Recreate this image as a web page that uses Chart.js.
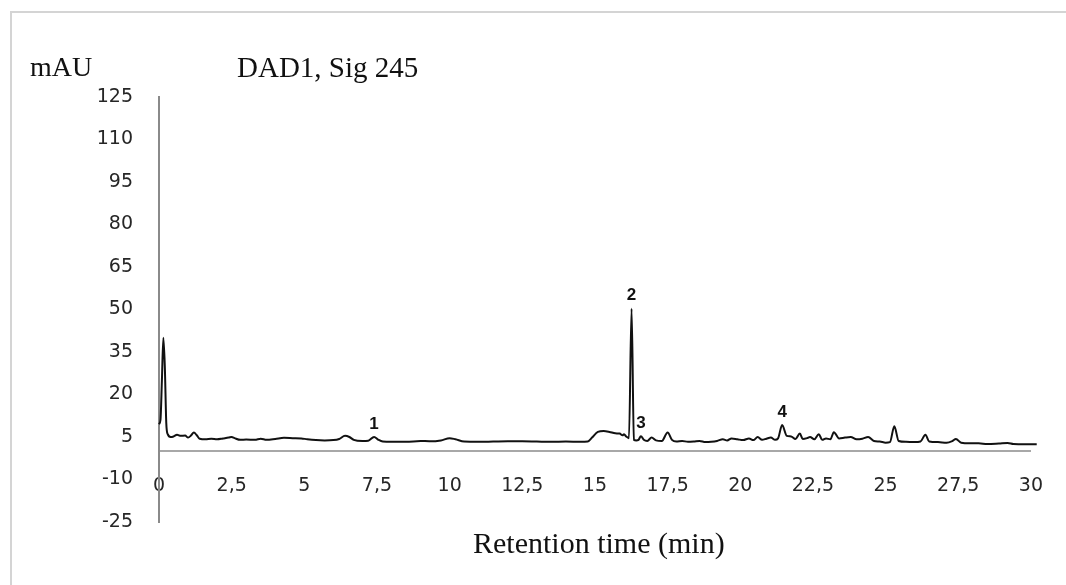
<!DOCTYPE html>
<html>
<head>
<meta charset="utf-8">
<script src="https://cdn.jsdelivr.net/npm/chart.js@4.4.1/dist/chart.umd.min.js"></script>
<style>
    body { margin: 0; background: #fff; }
    .wrap { position: relative; width: 1066px; height: 585px; overflow: hidden; }
    .frame { position: absolute; left: 10px; top: 11px; width: 1100px; height: 620px; border-top: 2px solid #d4d4d4; border-left: 2px solid #d4d4d4; }
    .txt { position: absolute; font-family: "Liberation Serif", "Times New Roman", serif; font-size: 28px; line-height: 32px; color: #111; white-space: nowrap; }
    canvas { position: absolute; left: 0; top: 0; }
</style>
</head>
<body>
<div class="wrap">
    <div class="frame"></div>
    <canvas id="chromatogram" width="1066" height="585"></canvas>
    <div class="txt" style="left:30px; top:51px;">mAU</div>
    <div class="txt" style="left:237px; top:51px; font-size:29px;">DAD1, Sig 245</div>
    <div class="txt" style="left:473px; top:527px; font-size:30px;">Retention time (min)</div>
</div>
<script>
// retention time (min) and detector signal (mAU)
const time = [
    0, 0.05, 0.1, 0.15, 0.2, 0.25, 0.3, 0.4, 0.5, 0.62, 0.75, 0.9, 1.0, 1.1, 1.2, 1.3, 1.4, 1.6, 1.8, 2.0,
    2.2, 2.4, 2.5, 2.6, 2.8, 3.0, 3.3, 3.5, 3.7, 4.0, 4.3, 4.6, 4.9, 5.1, 5.4, 5.7, 6.0, 6.2, 6.4, 6.55,
    6.7, 7.0, 7.2, 7.4, 7.55, 7.7, 8.0, 8.5, 9.0, 9.3, 9.7, 10.0, 10.2, 10.5, 11, 11.5, 12, 12.5, 13, 13.5,
    14, 14.5, 14.75, 14.9, 15.1, 15.3, 15.5, 15.7, 15.85, 15.95, 16.0, 16.07, 16.17, 16.26, 16.34, 16.42, 16.5, 16.58, 16.68, 16.8,
    16.95, 17.1, 17.3, 17.5, 17.65, 17.8, 18.0, 18.2, 18.4, 18.6, 18.8, 19.0, 19.2, 19.4, 19.55, 19.7, 19.9, 20.1, 20.3, 20.45,
    20.6, 20.75, 20.9, 21.05, 21.2, 21.3, 21.44, 21.6, 21.75, 21.9, 22.05, 22.15, 22.3, 22.4, 22.55, 22.7, 22.82, 22.95, 23.1, 23.22,
    23.4, 23.6, 23.8, 24.0, 24.2, 24.4, 24.6, 24.8, 25.0, 25.15, 25.3, 25.45, 25.7, 26.0, 26.2, 26.37, 26.5, 26.8, 27.1, 27.3,
    27.42, 27.6, 27.9, 28.2, 28.5, 28.9, 29.2, 29.4, 29.8, 30.2, 30.6
];
const signal = [
    9.5, 11, 25, 40, 30, 10, 6, 5.0, 5.2, 5.8, 5.4, 5.5, 4.8, 5.5, 6.6, 5.6, 4.4, 4.2, 4.4, 4.2,
    4.5, 4.8, 5.0, 4.6, 4.0, 4.1, 4.0, 4.4, 4.0, 4.3, 4.7, 4.6, 4.5, 4.2, 3.9, 3.8, 3.9, 4.3, 5.4, 5.0,
    4.0, 3.6, 3.7, 5.0, 4.0, 3.4, 3.3, 3.3, 3.6, 3.5, 3.8, 4.6, 4.2, 3.4, 3.3, 3.4, 3.5, 3.5, 3.4, 3.3,
    3.4, 3.3, 3.4, 4.8, 6.8, 7.1, 6.8, 6.3, 6.2, 5.6, 6.0, 5.2, 4.6, 50.3, 4.0, 3.8, 4.0, 5.3, 4.0, 3.6,
    4.8, 3.8, 3.6, 6.6, 4.0, 3.4, 3.6, 3.3, 3.4, 3.6, 3.2, 3.3, 3.6, 4.2, 3.8, 4.5, 4.2, 3.9, 4.5, 3.9,
    5.0, 4.0, 4.4, 4.8, 4.0, 4.5, 9.2, 5.4, 5.2, 4.3, 6.2, 4.3, 4.6, 5.0, 4.2, 6.0, 4.0, 4.5, 4.2, 6.7,
    4.5, 4.8, 5.0, 4.2, 4.4, 5.0, 3.6, 3.4, 3.0, 3.2, 8.8, 3.6, 3.3, 3.2, 3.4, 5.8, 3.4, 3.2, 3.0, 3.6,
    4.3, 3.0, 2.8, 2.8, 2.5, 2.7, 2.9, 2.5, 2.4, 2.4, 2.3
];

// numbered peaks
const peakLabels = ["1", "2", "3", "4"];
const peakTimes = [7.4, 16.26, 16.58, 21.44];

const points = time.map((t, i) => ({ x: t, y: signal[i] }));

const tickFont = { family: "DejaVu Sans", size: 19 };

const peakLabelPlugin = {
    id: "peakLabels",
    afterDatasetsDraw(chart) {
        const ctx = chart.ctx;
        const xs = chart.scales.x;
        const ys = chart.scales.y;
        ctx.save();
        ctx.font = "bold 17px 'Liberation Sans', Arial, sans-serif";
        ctx.fillStyle = "#111";
        ctx.textAlign = "center";
        ctx.textBaseline = "middle";
        peakLabels.forEach((lbl, i) => {
            const idx = time.indexOf(peakTimes[i]);
            const px = xs.getPixelForValue(peakTimes[i]);
            const py = ys.getPixelForValue(signal[idx]) - 13;
            ctx.fillText(lbl, px, py);
        });
        ctx.restore();
    }
};

new Chart(document.getElementById("chromatogram"), {
    type: "line",
    data: {
        datasets: [
            {
                label: "DAD1, Sig 245",
                data: points,
                borderColor: "#111",
                borderWidth: 2,
                pointRadius: 0,
                cubicInterpolationMode: "monotone",
                clip: false
            }
        ]
    },
    options: {
        responsive: false,
        animation: false,
        layout: { padding: { left: 0, top: 97, right: 30, bottom: 63 } },
        plugins: {
            legend: { display: false },
            tooltip: { enabled: false }
        },
        scales: {
            x: {
                type: "linear",
                position: { y: 0 },
                min: 0,
                max: 30,
                grid: { display: false, drawTicks: false },
                border: { display: true, color: "#a8a8a8", width: 2 },
                ticks: {
                    stepSize: 2.5,
                    autoSkip: false,
                    maxRotation: 0,
                    padding: 23,
                    color: "#262626",
                    font: tickFont,
                    callback: (v) => String(v).replace(".", ",")
                },
                afterFit(scale) { scale.height = 0; }
            },
            y: {
                min: -25,
                max: 125,
                grid: { display: false, drawTicks: false },
                border: { display: true, color: "#8a8a8a", width: 2 },
                ticks: {
                    stepSize: 15,
                    padding: 26,
                    color: "#262626",
                    font: tickFont
                },
                afterFit(scale) { scale.width = 159; }
            }
        }
    },
    plugins: [peakLabelPlugin]
});
</script>
</body>
</html>
